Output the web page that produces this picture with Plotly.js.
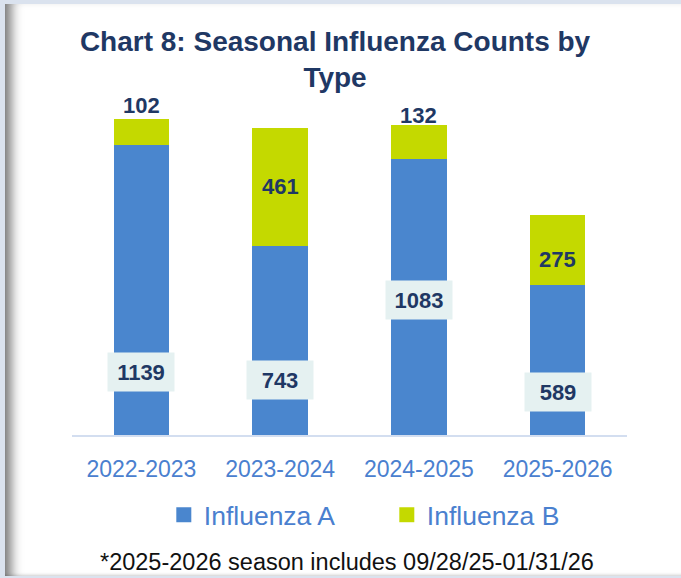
<!DOCTYPE html>
<html>
<head>
<meta charset="utf-8">
<script src="https://cdn.plot.ly/plotly-3.0.1.min.js"></script>
<style>
  html, body { margin: 0; padding: 0; width: 681px; height: 578px; overflow: hidden; background: #dae2ee; }
  #frame { position: absolute; left: 5px; top: 4px; width: 676px; height: 572px; background: #ffffff;
           box-shadow: inset 14px 0 12px -8px rgba(0,0,0,0.55), inset 0 -3px 3px -2px rgba(0,0,0,0.15); }
  #chart { position: absolute; left: 0; top: 0; width: 681px; height: 578px; }
</style>
</head>
<body>
<div id="frame"></div>
<div id="chart"></div>
<script>
// ---- data ----
const seasons = ['2022-2023', '2023-2024', '2024-2025', '2025-2026'];
const influenzaA = [1139, 743, 1083, 589];
const influenzaB = [102, 461, 132, 275];
const seriesNames = ['Influenza A', 'Influenza B'];
// label anchor heights (in count units) as placed in the original
const labelPosA = [249, 214, 528, 167];
const labelPosB = [1293, 975, 1254, 689];

const navy = '#1f3864';
const blueA = '#4a86ce';
const limeB = '#c4d900';
const tickBlue = '#4a80cf';
const fontFam = 'Liberation Sans, Arial, sans-serif';

const traces = [
  { type: 'bar', name: seriesNames[0], x: seasons, y: influenzaA, showlegend: false,
    marker: { color: blueA, line: { width: 0 } }, hoverinfo: 'skip' },
  { type: 'bar', name: seriesNames[1], x: seasons, y: influenzaB, showlegend: false,
    marker: { color: limeB, line: { width: 0 } }, hoverinfo: 'skip' },
  // legend keys (no visible points)
  { type: 'scatter', mode: 'markers', name: seriesNames[0], x: [seasons[0]], y: [null],
    marker: { symbol: 'square', size: 15, color: blueA }, hoverinfo: 'skip' },
  { type: 'scatter', mode: 'markers', name: seriesNames[1], x: [seasons[0]], y: [null],
    marker: { symbol: 'square', size: 15, color: limeB }, hoverinfo: 'skip' }
];

const annotations = [];
seasons.forEach((s, i) => {
  annotations.push({
    x: s, y: labelPosA[i], xref: 'x', yref: 'y', text: String(influenzaA[i]),
    showarrow: false, font: { family: fontFam, size: 22, color: navy, weight: 'bold' },
    bgcolor: '#e5f1f1', width: 52, height: 24, borderpad: 7, xanchor: 'center', yanchor: 'middle'
  });
  annotations.push({
    x: s, y: labelPosB[i], xref: 'x', yref: 'y', text: String(influenzaB[i]),
    showarrow: false, font: { family: fontFam, size: 22, color: navy, weight: 'bold' },
    xanchor: 'center', yanchor: 'middle'
  });
});
annotations.push({
  text: '*2025-2026 season includes 09/28/25-01/31/26',
  xref: 'paper', yref: 'paper', x: 0.4955, y: -0.356, xanchor: 'center', yanchor: 'middle',
  showarrow: false, font: { family: fontFam, size: 23.5, color: '#111111' }
});

const layout = {
  width: 681, height: 578,
  margin: { l: 72, r: 54, t: 78, b: 143, pad: 0 },
  paper_bgcolor: 'rgba(0,0,0,0)', plot_bgcolor: 'rgba(0,0,0,0)',
  barmode: 'stack', bargap: 0.6,
  title: {
    text: 'Chart 8: Seasonal Influenza Counts by<br>Type',
    font: { family: fontFam, size: 28, color: navy, weight: 'bold' },
    xref: 'container', x: 0.492, xanchor: 'center',
    yref: 'container', y: 0.912, yanchor: 'top'
  },
  xaxis: {
    type: 'category', showgrid: false, zeroline: false,
    showline: true, linecolor: '#d3def0', linewidth: 2,
    ticks: '', ticklabelstandoff: 12,
    tickfont: { family: fontFam, size: 23, color: tickBlue }
  },
  yaxis: {
    range: [0, 1400], visible: false, showgrid: false, zeroline: false, fixedrange: true
  },
  showlegend: true,
  legend: {
    orientation: 'h', xref: 'container', x: 0.568, xanchor: 'center',
    yref: 'container', y: 0.109, yanchor: 'middle',
    entrywidth: 178, entrywidthmode: 'pixels',
    font: { family: fontFam, size: 26.5, color: tickBlue },
    bgcolor: 'rgba(0,0,0,0)', traceorder: 'normal', itemclick: false, itemdoubleclick: false
  },
  annotations: annotations
};

Plotly.newPlot('chart', traces, layout, { displayModeBar: false, staticPlot: true });
</script>
</body>
</html>
